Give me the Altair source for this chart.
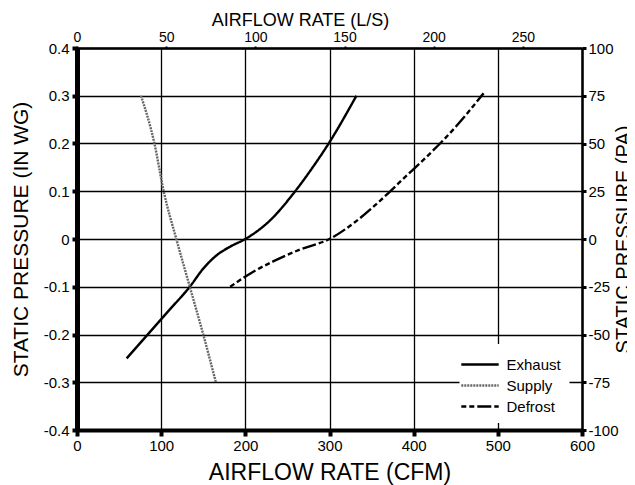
import altair as alt
import pandas as pd

# ---- data ----
series_names = ["Exhaust", "Supply", "Defrost"]

exhaust_cfm = [59, 84, 109, 134, 150, 166, 182, 200, 230, 257, 280, 299, 332]
exhaust_inwg = [-0.25, -0.2, -0.15, -0.1, -0.062, -0.034, -0.016, 0.0, 0.04, 0.095, 0.15, 0.2, 0.3]

supply_cfm = [76, 92, 103, 118, 134, 150, 165]
supply_inwg = [0.3, 0.2, 0.1, 0.0, -0.1, -0.2, -0.3]

defrost_cfm = [182, 208, 233, 265, 300, 330, 360, 390, 420, 450, 483]
defrost_inwg = [-0.1, -0.07, -0.047, -0.022, 0.0, 0.035, 0.08, 0.13, 0.18, 0.235, 0.305]

cfm_ticks = [0, 100, 200, 300, 400, 500, 600]
inwg_ticks = [-0.4, -0.3, -0.2, -0.1, 0, 0.1, 0.2, 0.3, 0.4]
ls_ticks = [0, 50, 100, 150, 200, 250]
pa_ticks = [-100, -75, -50, -25, 0, 25, 50, 75, 100]
CFM_PER_LS = 2.11888

line_colors = ["#000000", "#666666", "#000000"]
line_dashes = [[1, 0], [2, 1], [5, 3, 5, 3, 14, 3]]

rows = []
for name, xs, ys in [("Exhaust", exhaust_cfm, exhaust_inwg),
                     ("Supply", supply_cfm, supply_inwg),
                     ("Defrost", defrost_cfm, defrost_inwg)]:
    for x, y in zip(xs, ys):
        rows.append({"series": name, "cfm": x, "inwg": y})
df = pd.DataFrame(rows)

FONT = "Liberation Sans"

leg = alt.Legend(
    orient="none", legendX=382.5, legendY=296, title=None,
    fillColor="white", padding=8, symbolType="M-1.7,0H1.7", symbolSize=484,
    symbolStrokeWidth=2.4, labelFontSize=15, labelOffset=14, rowPadding=0,
    labelColor="black", labelFont=FONT,
)

lines = alt.Chart(df).mark_line(interpolate="monotone", strokeWidth=2.4).encode(
    x=alt.X("cfm:Q",
            scale=alt.Scale(domain=[0, 600], nice=False, zero=False),
            axis=alt.Axis(orient="bottom", values=cfm_ticks, title="AIRFLOW RATE (CFM)",
                          grid=True, gridColor="black", gridWidth=1.3, gridOpacity=1,
                          domainColor="black", domainWidth=4, labelFlush=False,
                          tickColor="black", tickSize=6, tickWidth=4,
                          labelFontSize=15, labelColor="black", labelPadding=2, labelFont=FONT,
                          titleFontSize=23, titleFontWeight="normal", titleColor="black",
                          titleFont=FONT, titleY=49, titleBaseline="alphabetic")),
    y=alt.Y("inwg:Q",
            scale=alt.Scale(domain=[-0.4, 0.4], nice=False, zero=False),
            axis=alt.Axis(orient="left", values=inwg_ticks, title="STATIC PRESSURE (IN WG)",
                          labelExpr="datum.value == 0 ? '0' : (datum.value < 0 ? '-' + format(-datum.value, '.1f') : format(datum.value, '.1f'))",
                          grid=True, gridColor="black", gridWidth=1.3, gridOpacity=1,
                          domainColor="black", domainWidth=5, labelFlush=False,
                          tickColor="black", tickSize=5, tickWidth=4,
                          labelFontSize=15, labelColor="black", labelPadding=3, labelFont=FONT,
                          titleFontSize=21, titleFontWeight="normal", titleColor="black",
                          titleFont=FONT, titleX=-50, titleBaseline="alphabetic")),
    color=alt.Color("series:N", scale=alt.Scale(domain=series_names, range=line_colors), legend=leg),
    strokeDash=alt.StrokeDash("series:N", scale=alt.Scale(domain=series_names, range=line_dashes), legend=leg),
)

top_df = pd.DataFrame({"ls": ls_ticks})
top_layer = alt.Chart(top_df).mark_point(opacity=0).encode(
    x=alt.X("ls:Q",
            scale=alt.Scale(domain=[0, 600 / CFM_PER_LS], nice=False, zero=False),
            axis=alt.Axis(orient="top", values=ls_ticks, title="AIRFLOW RATE (L/S)", grid=False,
                          domainColor="black", domainWidth=2.5, labelFlush=False,
                          tickColor="black", tickSize=2, tickWidth=2,
                          labelFontSize=14, labelColor="black", labelPadding=2, labelFont=FONT,
                          titleFontSize=18, titleFontWeight="normal", titleColor="black",
                          titleFont=FONT, titleX=223, titleY=-23, titleBaseline="alphabetic")),
    y=alt.value(0),
)

right_df = pd.DataFrame({"pa": pa_ticks})
right_layer = alt.Chart(right_df).mark_point(opacity=0).encode(
    y=alt.Y("pa:Q",
            scale=alt.Scale(domain=[-100, 100], nice=False, zero=False),
            axis=alt.Axis(orient="right", values=pa_ticks, title="STATIC PRESSURE (PA)", grid=False,
                          labelExpr="datum.value < 0 ? '-' + format(-datum.value, 'd') : format(datum.value, 'd')",
                          domainColor="black", domainWidth=2.5, labelFlush=False,
                          tickColor="black", tickSize=4, tickWidth=3,
                          labelFontSize=15, labelColor="black", labelPadding=2, labelFont=FONT,
                          titleFontSize=20, titleFontWeight="normal", titleColor="black",
                          titleFont=FONT, titleAngle=270, titleX=31, titleY=191,
                          titleBaseline="top", titleAlign="center")),
    x=alt.value(0),
)

chart = alt.layer(lines, top_layer, right_layer).resolve_scale(
    x="independent", y="independent"
).properties(
    width=505, height=382,
    autosize=alt.AutoSizeParams(type="none"),
    padding={"left": 69, "top": 40, "right": 45, "bottom": 55},
    background="white",
).configure_view(stroke=None).configure(font=FONT)

chart.save("out.html", embed_options={"renderer": "svg", "actions": False})
